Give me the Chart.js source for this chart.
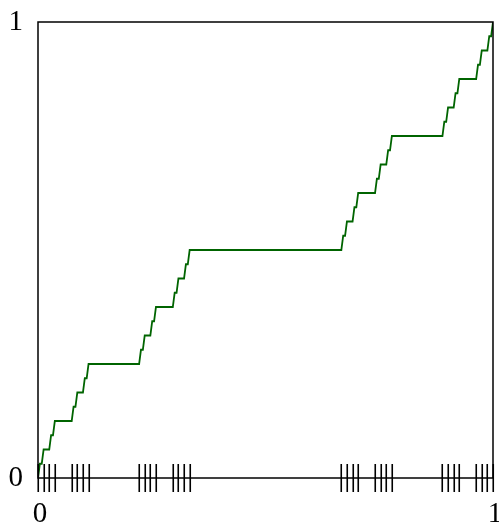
<!DOCTYPE html>
<html>
<head>
<meta charset="utf-8">
<script src="https://cdn.jsdelivr.net/npm/chart.js@4"></script>
<style>
  html, body { margin: 0; padding: 0; background: #ffffff; }
  #wrap { width: 499px; height: 529px; position: relative; }
</style>
</head>
<body>
<div id="wrap"><canvas id="c"></canvas></div>
<script>
// Cantor staircase, level-5 approximation.
// x positions are in units of 1/243, y values in units of 1/32.
const curveX = [0, 1, 2, 3, 6, 7, 8, 9, 18, 19, 20, 21, 24, 25, 26, 27,
                54, 55, 56, 57, 60, 61, 62, 63, 72, 73, 74, 75, 78, 79, 80, 81,
                162, 163, 164, 165, 168, 169, 170, 171, 180, 181, 182, 183, 186, 187, 188, 189,
                216, 217, 218, 219, 222, 223, 224, 225, 234, 235, 236, 237, 240, 241, 242, 243];
const curveY = [0, 1, 1, 2, 2, 3, 3, 4, 4, 5, 5, 6, 6, 7, 7, 8,
                8, 9, 9, 10, 10, 11, 11, 12, 12, 13, 13, 14, 14, 15, 15, 16,
                16, 17, 17, 18, 18, 19, 19, 20, 20, 21, 21, 22, 22, 23, 23, 24,
                24, 25, 25, 26, 26, 27, 27, 28, 28, 29, 29, 30, 30, 31, 31, 32];
const xUnit = 243;
const yUnit = 32;

// Rug marks along the x axis: endpoints of the level-4 intervals, in units of 1/81.
const rugMarks = [0, 1, 2, 3, 6, 7, 8, 9, 18, 19, 20, 21, 24, 25, 26, 27,
                  54, 55, 56, 57, 60, 61, 62, 63, 72, 73, 74, 75, 78, 79, 80, 81];
const rugUnit = 81;

// Labelled tick values on both axes.
const xTickValues = [0, 1];
const xTickLabels = ['0', '1'];
const yTickValues = [0, 1];
const yTickLabels = ['0', '1'];

const points = curveX.map((v, i) => ({ x: v / xUnit, y: curveY[i] / yUnit }));

const serif = '"Liberation Serif", "Times New Roman", serif';

// Frame around the plot area plus the rug marks crossing the bottom axis.
const framePlugin = {
  id: 'frameAndRug',
  afterDatasetsDraw(chart) {
    const { ctx, chartArea: a, scales } = chart;
    ctx.save();
    ctx.strokeStyle = '#000000';
    ctx.lineWidth = 1.5;
    ctx.strokeRect(a.left, a.top, a.right - a.left, a.bottom - a.top);
    ctx.lineWidth = 1.6;
    ctx.beginPath();
    rugMarks.forEach(m => {
      const px = Math.round(scales.x.getPixelForValue(m / rugUnit)) + 0.25;
      ctx.moveTo(px, a.bottom - 14);
      ctx.lineTo(px, a.bottom + 14);
    });
    ctx.stroke();
    ctx.restore();
  }
};

new Chart(document.getElementById('c'), {
  type: 'scatter',
  data: {
    datasets: [{
      data: points,
      showLine: true,
      borderColor: '#006400',
      borderWidth: 1.8,
      pointRadius: 0,
      pointHoverRadius: 0,
      tension: 0,
      fill: false
    }]
  },
  options: {
    responsive: true,
    maintainAspectRatio: false,
    animation: false,
    events: [],
    layout: { padding: { top: 22, right: 6, left: 0, bottom: 0 } },
    plugins: { legend: { display: false }, tooltip: { enabled: false } },
    scales: {
      x: {
        type: 'linear',
        min: 0,
        max: 1,
        grid: { display: false },
        border: { display: false },
        afterBuildTicks(scale) { scale.ticks = xTickValues.map(v => ({ value: v })); },
        ticks: {
          color: '#000000',
          font: { family: serif, size: 29 },
          padding: 11,
          labelOffset: 2,
          maxRotation: 0,
          autoSkip: false,
          callback: (v) => xTickLabels[xTickValues.indexOf(v)]
        },
        afterFit(scale) {
          scale.height = 51;
          scale.paddingLeft = 0;
          scale.paddingRight = 0;
        }
      },
      y: {
        type: 'linear',
        min: 0,
        max: 1,
        grid: { display: false, drawTicks: false },
        border: { display: false },
        afterBuildTicks(scale) { scale.ticks = yTickValues.map(v => ({ value: v })); },
        ticks: {
          color: '#000000',
          font: { family: serif, size: 29 },
          padding: 15,
          autoSkip: false,
          callback: (v) => yTickLabels[yTickValues.indexOf(v)]
        },
        afterFit(scale) {
          scale.width = 38;
          scale.paddingTop = 0;
          scale.paddingBottom = 0;
        }
      }
    }
  },
  plugins: [framePlugin]
});
</script>
</body>
</html>
